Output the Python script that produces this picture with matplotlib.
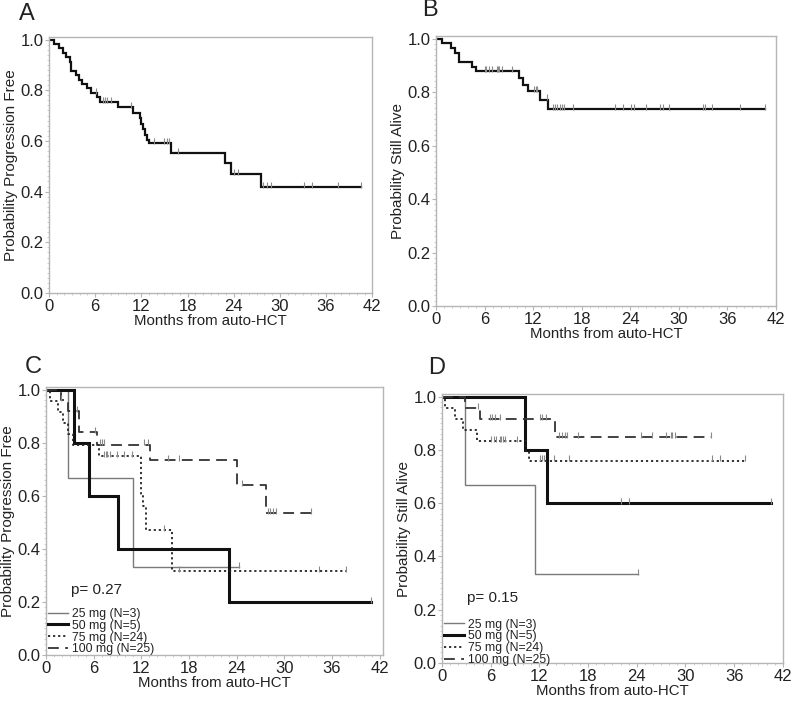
import numpy as np
import matplotlib
matplotlib.use("Agg")
import matplotlib.pyplot as plt
from matplotlib.ticker import MultipleLocator

plt.rcParams['font.family'] = ['Liberation Sans', 'DejaVu Sans']

# ---------------- data ----------------
xticks = [0, 6, 12, 18, 24, 30, 36, 42]
yticks = [0.0, 0.2, 0.4, 0.6, 0.8, 1.0]

# Panel A: progression-free (all patients)
a_t = [0, 0.6, 1.3, 1.8, 2.2, 2.7, 2.9, 3.5, 3.9, 4.3, 4.9, 5.5, 6.2, 6.6, 9.0,
       10.9, 11.8, 12.0, 12.2, 12.5, 12.8, 13.0, 15.8, 22.9, 23.6, 27.5]
a_s = [1.0, 0.982, 0.965, 0.947, 0.930, 0.912, 0.877, 0.860, 0.842, 0.825, 0.807,
       0.790, 0.772, 0.754, 0.733, 0.711, 0.690, 0.668, 0.647, 0.625, 0.604, 0.590,
       0.552, 0.511, 0.470, 0.418]
a_end = 40.6
a_cens = [6.1, 7.0, 7.3, 7.6, 8.0, 10.7, 13.6, 15.0, 15.3, 15.6, 16.8, 24.1, 24.5,
          27.8, 28.3, 28.8, 33.2, 34.2, 37.5, 40.6]

# Panel B: overall survival (all patients)
b_t = [0, 0.7, 1.8, 2.4, 2.8, 4.4, 5.0, 10.3, 10.8, 11.4, 12.9, 13.8]
b_s = [1.0, 0.984, 0.965, 0.946, 0.913, 0.894, 0.878, 0.854, 0.828, 0.805, 0.772, 0.738]
b_end = 40.6
b_cens = [6.0, 6.2, 6.6, 6.9, 7.5, 7.6, 7.8, 8.1, 9.4, 12.1, 12.3, 12.5, 13.7,
          14.4, 14.7, 15.0, 15.3, 15.6, 15.8, 16.9, 22.1, 23.1, 24.1, 24.5, 25.9,
          27.7, 28.1, 28.8, 33.0, 33.2, 34.1, 37.5, 40.6]

groups = ['25 mg (N=3)', '50 mg (N=5)', '75 mg (N=24)', '100 mg (N=25)']

# Panel C: progression-free by dose
c_t = [[0, 2.8, 11.0],
       [0, 3.5, 5.4, 9.1, 23.0],
       [0, 0.5, 1.5, 2.2, 2.8, 3.4, 6.7, 11.9, 12.0, 12.2, 12.6, 15.8],
       [0, 1.9, 2.8, 4.1, 6.4, 13.1, 24.0, 27.7]]
c_s = [[1.0, 0.667, 0.333],
       [1.0, 0.8, 0.6, 0.4, 0.2],
       [1.0, 0.958, 0.917, 0.875, 0.834, 0.792, 0.750, 0.70, 0.60, 0.56, 0.47, 0.315],
       [1.0, 0.96, 0.92, 0.84, 0.793, 0.735, 0.64, 0.535]]
c_end = [24.3, 40.9, 37.8, 33.4]
c_cens = [[24.3],
          [40.9],
          [7.3, 7.5, 7.7, 8.0, 8.9, 9.8, 10.8, 14.8, 16.8, 34.4, 37.8],
          [1.9, 3.9, 6.2, 6.8, 7.1, 7.3, 12.3, 12.9, 15.3, 16.8, 24.7, 28.0, 28.2,
           28.6, 29.0, 33.4]]
c_p = 'p= 0.27'

# Panel D: survival by dose
d_t = [[0, 2.8, 11.4],
       [0, 10.2, 12.9],
       [0, 0.4, 1.6, 2.6, 4.3, 10.4, 10.7],
       [0, 2.8, 4.7, 13.9]]
d_s = [[1.0, 0.667, 0.333],
       [1.0, 0.8, 0.6],
       [1.0, 0.958, 0.917, 0.875, 0.833, 0.797, 0.76],
       [1.0, 0.958, 0.917, 0.849]]
d_end = [24.1, 40.6, 37.4, 33.1]
d_cens = [[24.1],
          [22.1, 23.0, 40.6],
          [6.0, 6.4, 6.7, 7.1, 7.3, 7.5, 7.8, 9.3, 12.1, 12.3, 12.6, 13.8, 15.6,
           33.3, 34.2, 37.4],
          [4.4, 5.9, 6.2, 6.5, 7.1, 12.1, 12.3, 12.8, 14.4, 14.8, 15.1, 15.4, 16.7,
           24.5, 25.9, 27.6, 28.2, 28.4, 28.7, 33.1]]
d_p = 'p= 0.15'

# ---------------- styling ----------------
styles = [dict(color='#7a7a7a', lw=1.0, ls='-'),
          dict(color='#111111', lw=2.2, ls='-'),
          dict(color='#222222', lw=1.3, ls=(0, (1.2, 1.6))),
          dict(color='#333333', lw=1.3, ls=(0, (6, 3.5)))]

FRAME = '#b5b5b5'
TXT = '#222222'


def step_value(t, s, x):
    idx = np.searchsorted(np.asarray(t), x, side='right') - 1
    return np.asarray(s)[np.clip(idx, 0, len(s) - 1)]


def km(ax, t, s, end, cens, **kw):
    xs = list(t) + [end]
    ys = list(s) + [s[-1]]
    line, = ax.step(xs, ys, where='post', solid_joinstyle='miter', **kw)
    if cens:
        cy = step_value(t, s, np.asarray(cens))
        ax.plot(cens, cy + 0.008, ls='none', marker='|', ms=5, mew=0.8,
                color='#8a8a8a', zorder=3)
    return line


def setup(ax, ylabel, xmax=42.0):
    ax.set_xlim(0, xmax)
    ax.set_ylim(0, 1.01)
    ax.set_xticks(xticks)
    ax.set_yticks(yticks)
    ax.set_yticklabels([f'{v:.1f}' for v in yticks])
    ax.xaxis.set_minor_locator(MultipleLocator(1))
    ax.yaxis.set_minor_locator(MultipleLocator(0.02))
    for sp in ax.spines.values():
        sp.set_color(FRAME)
        sp.set_linewidth(1.0)
    ax.tick_params(which='major', length=3, width=0.8, color=FRAME,
                   labelsize=12, labelcolor=TXT, pad=1)
    ax.tick_params(which='minor', length=1.5, width=0.6, color='#c8c8c8')
    ax.set_xlabel('Months from auto-HCT', fontsize=10.8, color=TXT, labelpad=0)
    ax.set_ylabel(ylabel, fontsize=11, color=TXT, labelpad=2)


fig = plt.figure(figsize=(8.0, 7.06), dpi=100)

axA = fig.add_axes([0.06125, 0.585, 0.404, 0.3626])
axB = fig.add_axes([0.545, 0.5666, 0.425, 0.3824])
axC = fig.add_axes([0.0575, 0.0722, 0.421, 0.3796])
axD = fig.add_axes([0.5525, 0.0609, 0.426, 0.381])

setup(axA, 'Probability Progression Free')
km(axA, a_t, a_s, a_end, a_cens, color='#111111', lw=1.6)

setup(axB, 'Probability Still Alive')
km(axB, b_t, b_s, b_end, b_cens, color='#111111', lw=1.6)

for ax, T, S, E, CZ, ptxt, ylab, xmax, px, anchor in [
        (axC, c_t, c_s, c_end, c_cens, c_p, 'Probability Progression Free', 42.4, 3.2, -0.01),
        (axD, d_t, d_s, d_end, d_cens, d_p, 'Probability Still Alive', 42.0, 3.1, -0.02)]:
    setup(ax, ylab, xmax)
    handles = []
    for i in range(4):
        handles.append(km(ax, T[i], S[i], E[i], CZ[i], **styles[i]))
    ax.text(px, 0.245, ptxt, fontsize=11, color=TXT, va='center')
    ax.legend(handles, groups, loc='lower left', bbox_to_anchor=(0.0, anchor),
              frameon=False, fontsize=8.8, handlelength=1.6, handletextpad=0.3,
              labelspacing=-0.02, borderpad=0.2, borderaxespad=0.0,
              labelcolor=TXT)

for lab, x, y in [('A', 27, 14), ('B', 430, 10), ('C', 33, 367), ('D', 437, 368)]:
    fig.text(x / 800, 1 - y / 706, lab, fontsize=17, color=TXT,
             ha='center', va='center')

fig.savefig('out.png', dpi=100)
